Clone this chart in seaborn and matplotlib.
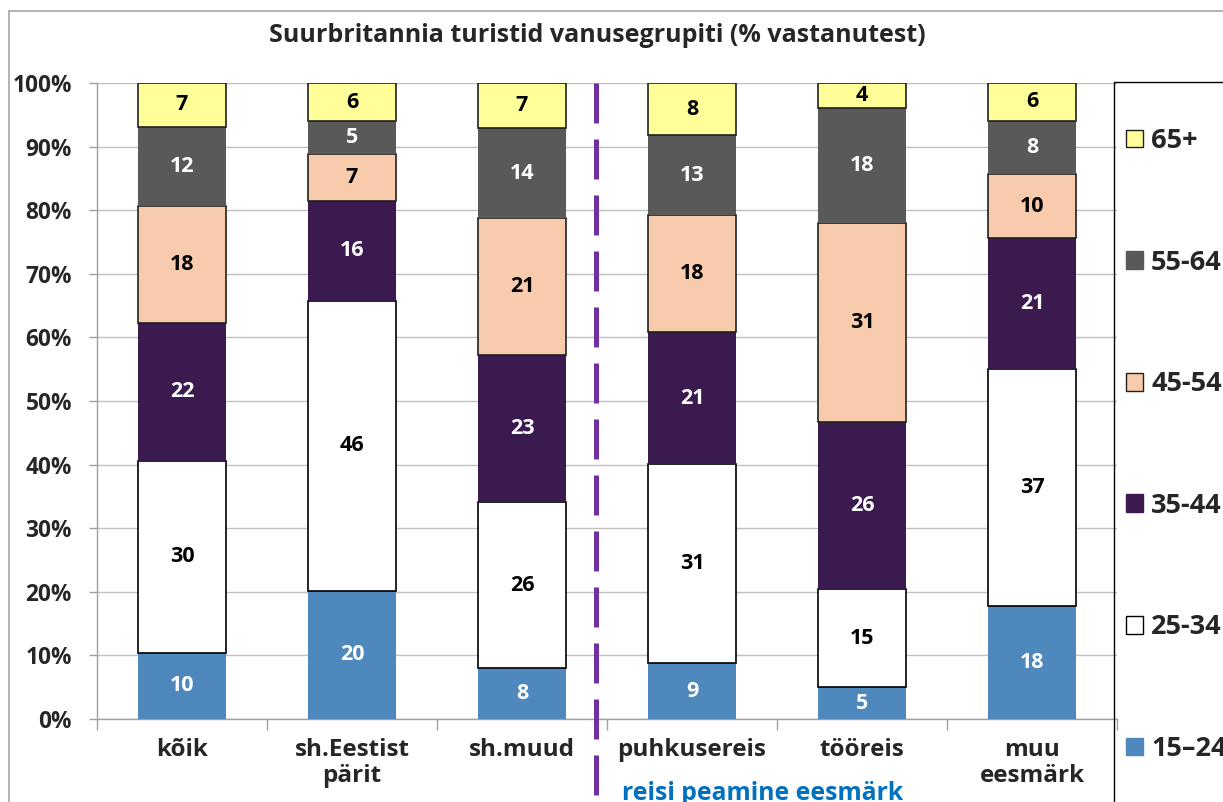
import matplotlib
matplotlib.use("Agg")
import matplotlib.pyplot as plt
import seaborn as sns
import numpy as np
from matplotlib.patches import Patch, Rectangle

categories = ["kõik", "sh.Eestist\npärit", "sh.muud", "puhkusereis", "tööreis", "muu\neesmärk"]
age_groups = ["15–24", "25-34", "35-44", "45-54", "55-64", "65+"]
v_15_24 = [10.4, 20.2, 8.0, 8.8, 5.0, 17.8]
v_25_34 = [30.2, 45.6, 26.1, 31.3, 15.4, 37.2]
v_35_44 = [21.7, 15.6, 23.2, 20.7, 26.3, 20.6]
v_45_54 = [18.4, 7.4, 21.4, 18.4, 31.3, 10.1]
v_55_64 = [12.4, 5.2, 14.2, 12.6, 18.1, 8.4]
v_65 = [6.9, 6.0, 7.1, 8.2, 3.9, 5.9]
yticks = [0, 10, 20, 30, 40, 50, 60, 70, 80, 90, 100]
title = "Suurbritannia turistid vanusegrupiti (% vastanutest)"
group_note = "reisi peamine eesmärk"

series = [v_15_24, v_25_34, v_35_44, v_45_54, v_55_64, v_65]
colors = ["#4F88BC", "#FFFFFF", "#3B1A50", "#F8CBAD", "#595959", "#FFFF99"]
edges = [None, "#000000", None, "#202020", None, "#202020"]
txtcol = ["white", "black", "white", "black", "white", "black"]

sns.set_theme(style="white")
plt.rcParams["font.family"] = ["Open Sans", "DejaVu Sans"]
plt.rcParams["font.weight"] = "bold"

W, H = 1223, 802
fig = plt.figure(figsize=(W / 100, H / 100), dpi=100)
ax = fig.add_axes([97 / W, 1 - 719 / H, (1117 - 97) / W, (719 - 83) / H])

bottom = np.zeros(len(categories))
for vals, c, e, tc, name in zip(series, colors, edges, txtcol, age_groups):
    sns.barplot(x=categories, y=vals, bottom=bottom, color=c, width=0.52,
                edgecolor=e if e else c, linewidth=1.2 if e else 0,
                saturation=1, ax=ax, zorder=3)
    cont = ax.containers[-1]
    ax.bar_label(cont, labels=[f"{round(v)}" for v in vals], label_type="center",
                 color=tc, fontsize=15.5, fontweight="bold")
    bottom = bottom + np.array(vals)

ax.set_xlim(-0.5, 5.5)
ax.set_ylim(0, 100)
ax.set_yticks(yticks)
ax.set_yticklabels([f"{t}%" for t in yticks], fontsize=16.3, fontweight="bold")
ax.yaxis.grid(True, color="#BFBFBF", linewidth=1, zorder=0)
ax.xaxis.grid(False)
ax.tick_params(axis="y", length=6, width=1, color="#A0A0A0", pad=12, left=True)
ax.set_xticks(range(len(categories)))
ax.set_xticklabels(categories, fontsize=17.5, fontweight="bold", linespacing=1.1)
ax.tick_params(axis="x", which="major", length=0, pad=14)
ax.set_xticks(np.arange(-0.5, 6.0, 1.0), minor=True)
ax.tick_params(axis="x", which="minor", length=8, width=1, color="#A0A0A0", bottom=True)
for s in ["top", "right"]:
    ax.spines[s].set_visible(False)
for s in ["left", "bottom"]:
    ax.spines[s].set_color("#A0A0A0")
    ax.spines[s].set_linewidth(1)
ax.set_xlabel("")
ax.set_ylabel("")

# dashed separator
ax.plot([2.435, 2.435], [100, -16], color="#7030A0", linewidth=3.6,
        dashes=(8, 3.2), clip_on=False, zorder=5)

fig.text(597 / W, 1 - 35 / H, title, ha="center", va="center",
         fontsize=18, fontweight="bold")
fig.text(763 / W, 1 - 781 / H, group_note, ha="center", va="top",
         fontsize=17.8, fontweight="bold", color="#0070C0")

# outer border and legend box
fig.patches.append(Rectangle((9 / W, -0.1), 1.2, 1 - 11 / H + 0.1, transform=fig.transFigure,
                             fill=False, edgecolor="#A6A6A6", linewidth=1.2))
fig.patches.append(Rectangle((1114 / W, -0.1), 0.5, 1 - 82 / H + 0.1, transform=fig.transFigure,
                             fill=False, edgecolor="#000000", linewidth=1.0))

handles = [Patch(facecolor=c, edgecolor=(e if e else c), linewidth=1.0)
           for c, e in zip(colors, edges)][::-1]
leg = fig.legend(handles, age_groups[::-1], loc="upper left",
                 bbox_to_anchor=(1126 / W, 1 - 128 / H), frameon=False,
                 fontsize=19.5, labelspacing=3.53, handlelength=0.63, handleheight=0.63,
                 handletextpad=0.3, borderaxespad=0, borderpad=0)
for t in leg.get_texts():
    t.set_fontweight("bold")

fig.savefig("out.png", dpi=100)
